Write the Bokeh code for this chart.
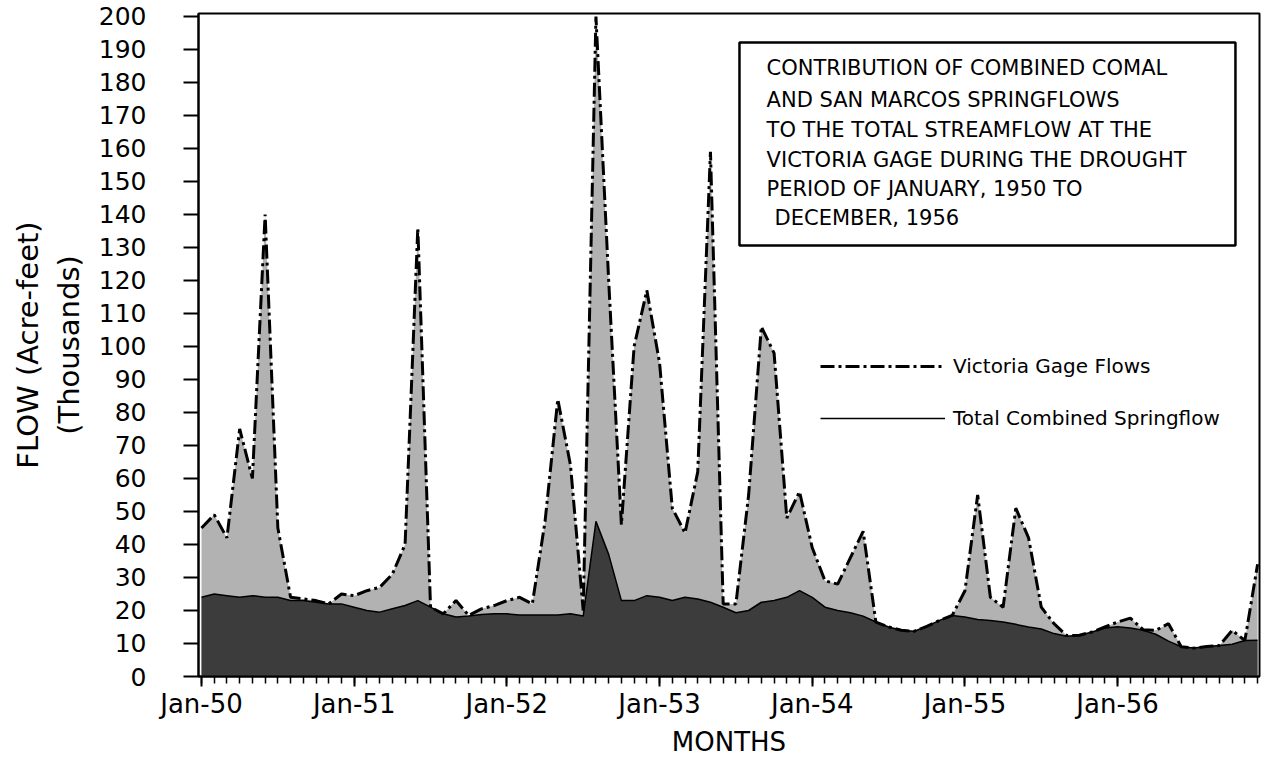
from bokeh.plotting import figure
from bokeh.models import FixedTicker, BoxAnnotation, Label, Range1d, Legend, LegendItem
from bokeh.embed import file_html
from bokeh.resources import INLINE

# ---------------- data ----------------
years = ["50", "51", "52", "53", "54", "55", "56"]
tick_labels = ["Jan-" + y for y in years]

# monthly flows, Jan 1950 .. Dec 1956, thousands of acre-feet
victoria_flow = [
    45, 49, 42, 75, 60, 140, 45, 24, 23.5, 23, 22, 25,          # 1950
    24.5, 26, 27, 31, 40, 136, 21, 19, 23, 18.5, 20.5, 21.5,    # 1951
    23, 24, 22, 47, 84, 64, 20, 200, 120, 46, 100, 117,         # 1952
    95, 51, 43.5, 62, 159, 22, 22, 55, 106, 98, 48, 56,         # 1953
    39, 29, 28, 36, 44, 16.5, 15, 14, 13.7, 15.2, 17, 18.5,     # 1954
    26, 55, 24, 21, 51, 42, 21, 16, 12.4, 12.5, 13.5, 15,       # 1955
    16.5, 17.7, 14.2, 14, 16, 9, 8.6, 9.1, 9.4, 14, 10.9, 34,   # 1956
]
springflow = [
    24, 25, 24.5, 24, 24.5, 24, 24, 23, 23, 22.5, 22, 22,
    21, 20, 19.5, 20.5, 21.5, 23, 21, 19, 18, 18.3, 18.8, 19,
    19, 18.6, 18.6, 18.6, 18.6, 19, 18.3, 47, 37, 23, 23, 24.5,
    24, 23, 24, 23.5, 22.5, 21, 19.3, 20, 22.5, 23, 24, 26,
    24, 21, 20, 19.3, 18.3, 16.5, 15, 14, 13.7, 15.2, 17, 18.5,
    18, 17.3, 17, 16.5, 15.8, 15, 14.4, 13, 12.2, 12.5, 13.5, 14.7,
    15.1, 14.7, 14, 12.8, 10.7, 9, 8.6, 9.1, 9.4, 9.8, 10.9, 11,
]
months = list(range(len(victoria_flow)))
year_starts = months[::12]
y_ticks = list(range(0, 201, 10))

title_lines = [
    "CONTRIBUTION OF COMBINED COMAL",
    "AND SAN MARCOS SPRINGFLOWS",
    "TO THE TOTAL STREAMFLOW AT THE",
    "VICTORIA GAGE DURING THE DROUGHT",
    "PERIOD OF JANUARY, 1950 TO",
    "DECEMBER, 1956",
]

FONT = "DejaVu Sans"
LIGHT = "#b2b2b2"
DARK = "#3c3c3c"

p = figure(width=1262, height=760, output_backend="svg", toolbar_location=None,
           x_range=Range1d(-0.236, 83.15), y_range=Range1d(0, 200.9),
           min_border_left=198, min_border_right=3, min_border_top=13,
           min_border_bottom=84)
p.background_fill_color = "white"
p.border_fill_color = "white"
p.xgrid.visible = False
p.ygrid.visible = False
p.outline_line_color = "black"
p.outline_line_width = 2
p.outline_line_alpha = 1.0

# areas
p.varea(x=months, y1=0, y2=victoria_flow, fill_color=LIGHT)
p.varea(x=months, y1=0, y2=springflow, fill_color=DARK)
d_line = p.line(months, springflow, line_color="black", line_width=1.5)
v_line = p.line(months, victoria_flow, line_color="black", line_width=3,
                line_dash="14 4 3 4")

# x axis
xa = p.xaxis[0]
xa.ticker = FixedTicker(ticks=year_starts, minor_ticks=months)
xa.major_label_overrides = {m: lab for m, lab in zip(year_starts, tick_labels)}
xa.axis_line_width = 2
xa.major_tick_line_width = 2
xa.minor_tick_line_width = 1.5
xa.major_tick_out = 10
xa.major_tick_in = 0
xa.minor_tick_out = 7
xa.minor_tick_in = 0
xa.major_label_standoff = 2
xa.major_label_text_font = FONT
xa.major_label_text_font_size = "26px"
xa.major_label_text_color = "black"
xa.axis_label = "MONTHS"
xa.axis_label_text_font = FONT
xa.axis_label_text_font_size = "26px"
xa.axis_label_text_font_style = "normal"
xa.axis_label_text_color = "black"
xa.axis_label_standoff = 5

# y axis
ya = p.yaxis[0]
ya.ticker = FixedTicker(ticks=y_ticks)
ya.axis_line_width = 2
ya.major_tick_line_width = 2
ya.major_tick_out = 15
ya.major_tick_in = 0
ya.minor_tick_line_color = None
ya.major_label_standoff = 37
ya.major_label_text_font = FONT
ya.major_label_text_font_size = "25px"
ya.major_label_text_color = "black"
ya.axis_label = "FLOW (Acre-feet)\n(Thousands)"
ya.axis_label_text_font = FONT
ya.axis_label_text_font_size = "29px"
ya.axis_label_text_font_style = "normal"
ya.axis_label_text_color = "black"
ya.axis_label_standoff = 10

# title box
box = BoxAnnotation(left=42.28, right=81.26, bottom=130.6, top=192.1,
                    fill_color="white", fill_alpha=1.0,
                    line_color="black", line_alpha=1.0, line_width=2.5)
p.add_layout(box)
title_y = [184.4, 174.8, 165.7, 156.6, 147.6, 138.8]
title_x = [44.41, 44.41, 44.41, 44.41, 44.41, 45.04]
for txt, tx, ty in zip(title_lines, title_x, title_y):
    p.add_layout(Label(x=tx, y=ty, text=txt, text_font=FONT,
                       text_font_size="21px", text_baseline="middle",
                       text_align="left", text_color="black"))

# legend
legend = Legend(items=[LegendItem(label="Victoria Gage Flows", renderers=[v_line]),
                       LegendItem(label="Total Combined Springflow", renderers=[d_line])],
                location=(622, 246), orientation="vertical",
                glyph_width=125, glyph_height=20, label_height=20,
                label_standoff=8, spacing=28, padding=0, margin=0,
                border_line_color=None, background_fill_alpha=0,
                label_text_font=FONT, label_text_font_size="20px",
                label_text_color="black", label_text_baseline="middle")
p.add_layout(legend, "center")

open("out.html", "w").write(file_html(p, INLINE))
